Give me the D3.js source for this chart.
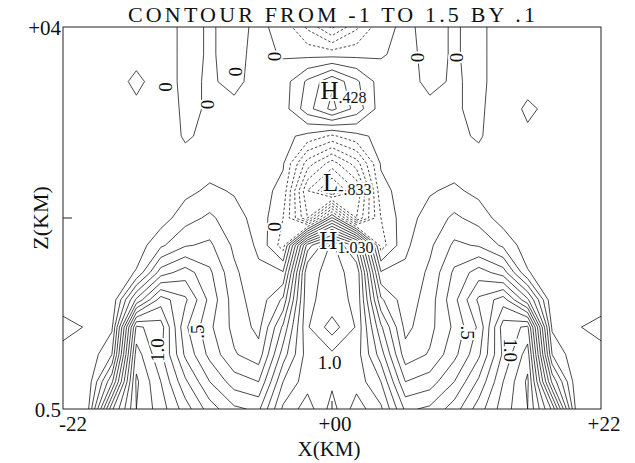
<!DOCTYPE html>
<html>
<head>
<meta charset="utf-8">
<script src="https://cdn.jsdelivr.net/npm/d3@7"></script>
<style>
  body { margin: 0; background: #fff; }
  text { font-family: "Liberation Serif", "DejaVu Serif", serif; fill: #111; }
</style>
</head>
<body>
<div id="chart"></div>
<script>
// Grid coordinates (km)
const xKm = [-22, -20, -18, -16, -14, -12, -10, -8, -6, -4, -2, 0, 2, 4, 6, 8, 10, 12, 14, 16, 18, 20, 22];
const zKm = [4.0, 3.75, 3.5, 3.25, 3.0, 2.75, 2.5, 2.25, 2.0, 1.75, 1.5, 1.25, 1.0, 0.75, 0.5];

// Field values, one row per height (top row first)
const field = [
  [0.02, 0.02, 0.03, 0.03, 0.06, -0.03, 0.01, -0.03, 0.02, -0.03, -0.22, -0.42, -0.22, -0.03, 0.02, -0.03, 0.01, -0.03, 0.06, 0.03, 0.03, 0.02, 0.02],
  [0.02, 0.03, 0.02, 0.03, 0.06, -0.03, 0.01, -0.03, 0.03, -0.01, -0.03, -0.04, -0.03, -0.01, 0.03, -0.03, 0.01, -0.03, 0.06, 0.03, 0.02, 0.03, 0.02],
  [0.02, 0.02, 0.04, -0.02, 0.04, -0.02, 0.01, -0.02, 0.03, 0.05, 0.22, 0.38, 0.22, 0.05, 0.03, -0.02, 0.01, -0.02, 0.04, 0.04, 0.04, 0.02, 0.02],
  [0.01, 0.02, 0.03, 0.02, 0.06, -0.02, 0.01, 0.02, 0.04, 0.05, 0.26, 0.43, 0.26, 0.05, 0.04, 0.02, 0.01, -0.02, 0.06, -0.02, 0.03, 0.02, 0.01],
  [0.01, 0.01, 0.02, 0.02, 0.05, -0.01, 0.02, 0.03, 0.04, 0.03, -0.03, -0.12, -0.03, 0.03, 0.04, 0.03, 0.02, -0.01, 0.05, 0.02, 0.02, 0.01, 0.01],
  [0.01, 0.01, 0.02, 0.02, 0.03, 0.03, 0.05, 0.04, 0.02, 0.01, -0.35, -0.55, -0.35, 0.01, 0.02, 0.04, 0.05, 0.03, 0.03, 0.02, 0.02, 0.01, 0.01],
  [0.01, 0.01, 0.02, 0.02, 0.03, 0.07, 0.12, 0.09, 0.04, -0.03, -0.6, -0.83, -0.6, -0.03, 0.04, 0.09, 0.12, 0.07, 0.03, 0.02, 0.02, 0.01, 0.01],
  [0.01, 0.01, 0.01, 0.02, 0.05, 0.16, 0.22, 0.14, 0.06, -0.1, -0.5, 0.12, -0.5, -0.1, 0.06, 0.14, 0.22, 0.16, 0.05, 0.02, 0.01, 0.01, 0.01],
  [0.01, 0.01, 0.02, 0.04, 0.18, 0.29, 0.32, 0.18, 0.08, -0.15, 0.75, 1.03, 0.75, -0.15, 0.08, 0.18, 0.32, 0.29, 0.18, 0.04, 0.02, 0.01, 0.01],
  [0.01, 0.01, 0.02, 0.11, 0.45, 0.55, 0.42, 0.22, 0.12, 0.11, 0.99, 1.01, 0.99, 0.11, 0.12, 0.22, 0.42, 0.55, 0.45, 0.11, 0.02, 0.01, 0.01],
  [0.03, 0.01, 0.02, 0.52, 0.85, 0.72, 0.47, 0.25, 0.14, 0.32, 0.99, 1.02, 0.99, 0.32, 0.14, 0.25, 0.47, 0.72, 0.85, 0.52, 0.02, 0.01, 0.03],
  [-0.02, 0.005, 0.08, 1.12, 1.05, 0.62, 0.42, 0.27, 0.17, 0.52, 0.99, 1.15, 0.99, 0.52, 0.17, 0.27, 0.42, 0.62, 1.05, 1.12, 0.08, 0.005, -0.02],
  [0.02, 0.02, 0.2, 1.25, 1.02, 0.68, 0.47, 0.31, 0.24, 0.65, 0.95, 0.98, 0.95, 0.65, 0.24, 0.31, 0.47, 0.68, 1.02, 1.25, 0.2, 0.02, 0.02],
  [0.02, 0.03, 0.48, 1.32, 1.1, 0.82, 0.6, 0.45, 0.4, 0.8, 0.96, 0.92, 0.96, 0.8, 0.4, 0.45, 0.6, 0.82, 1.1, 1.32, 0.48, 0.03, 0.02],
  [0.02, 0.06, 0.88, 1.3, 1.15, 0.95, 0.75, 0.62, 0.58, 0.92, 1.05, 0.86, 1.05, 0.92, 0.58, 0.62, 0.75, 0.95, 1.15, 1.3, 0.88, 0.06, 0.02]
];

// Contour levels: from -1 to 1.5 by .1
const levelFrom = -1, levelTo = 1.5, levelStep = 0.1;

// Tick labels
const xTickLabels = [{ v: -22, t: "-22" }, { v: 0, t: "+00" }, { v: 22, t: "+22" }];
const zTickLabels = [{ v: 4, t: "+04" }, { v: 0.5, t: "0.5" }];

// Contour labels placed along lines (km)
const lineLabels = [
  { t: "0", x: -13.6, z: 3.45, a: 90 },
  { t: "0", x: -10.2, z: 3.29, a: 90 },
  { t: "0", x: -7.9, z: 3.59, a: 90 },
  { t: "0", x: -4.7, z: 3.73, a: 90 },
  { t: "0", x: 7.0, z: 3.72, a: 90 },
  { t: "0", x: 10.2, z: 3.72, a: 90 },
  { t: "0", x: -4.7, z: 2.17, a: 90 },
  { t: ".5", x: -11.0, z: 1.21, a: -90 },
  { t: "1.0", x: -14.3, z: 1.04, a: -90 },
  { t: ".5", x: 11.1, z: 1.2, a: 90 },
  { t: "1.0", x: 14.6, z: 1.04, a: 90 },
  { t: "1.0", x: -0.2, z: 0.93, a: 0 }
];

// Highs and lows
const extremes = [
  { kind: "H", value: ".428", x: -0.2, z: 3.42 },
  { kind: "L", value: "-.833", x: 0.0, z: 2.58 },
  { kind: "H", value: "1.030", x: -0.3, z: 2.05 }
];

const width = 635, height = 463;
const margin = { top: 27, right: 34, bottom: 54, left: 63 };
const plotW = width - margin.left - margin.right;
const plotH = height - margin.top - margin.bottom;

const svg = d3.select("#chart")
  .append("svg")
  .attr("width", width)
  .attr("height", height);

const x = d3.scaleLinear().domain([xKm[0], xKm[xKm.length - 1]]).range([margin.left, margin.left + plotW]);
const z = d3.scaleLinear().domain([zKm[zKm.length - 1], zKm[0]]).range([margin.top + plotH, margin.top]);

// grid units -> km (d3.contours puts sample i at i + 0.5)
const gridX = d3.scaleLinear().domain([0.5, xKm.length - 0.5]).range([xKm[0], xKm[xKm.length - 1]]);
const gridZ = d3.scaleLinear().domain([0.5, zKm.length - 0.5]).range([zKm[0], zKm[zKm.length - 1]]);

const levels = d3.range(Math.round(levelFrom / levelStep), Math.round(levelTo / levelStep) + 1)
  .map(i => +(i * levelStep).toFixed(1));

const contours = d3.contours()
  .size([xKm.length, zKm.length])
  .thresholds(levels)(field.flat());

const proj = d3.geoTransform({
  point(px, py) { this.stream.point(x(gridX(px)), z(gridZ(py))); }
});
const path = d3.geoPath(proj);

svg.append("clipPath").attr("id", "plotClip")
  .append("rect")
  .attr("x", margin.left).attr("y", margin.top)
  .attr("width", plotW).attr("height", plotH);

svg.append("g")
  .attr("clip-path", "url(#plotClip)")
  .selectAll("path")
  .data(contours)
  .join("path")
  .attr("d", path)
  .attr("fill", "none")
  .attr("stroke", "#1a1a1a")
  .attr("stroke-width", 0.8)
  .attr("stroke-dasharray", d => d.value < -1e-9 ? "2.5,2" : null);

// Line labels with a white halo to break the lines
svg.append("g")
  .selectAll("text")
  .data(lineLabels)
  .join("text")
  .attr("transform", d => `translate(${x(d.x)},${z(d.z)}) rotate(${d.a})`)
  .attr("text-anchor", "middle")
  .attr("dominant-baseline", "central")
  .attr("font-size", 19)
  .attr("stroke", "#fff")
  .attr("stroke-width", 4)
  .attr("paint-order", "stroke")
  .text(d => d.t);

// High / low markers
const ext = svg.append("g")
  .selectAll("text")
  .data(extremes)
  .join("text")
  .attr("x", d => x(d.x) - 9)
  .attr("y", d => z(d.z) + 9)
  .attr("stroke", "#fff")
  .attr("stroke-width", 4)
  .attr("paint-order", "stroke");
ext.append("tspan").attr("font-size", 25).text(d => d.kind);
ext.append("tspan").attr("font-size", 16).attr("dy", 4).text(d => d.value);

// Frame
svg.append("rect")
  .attr("x", margin.left).attr("y", margin.top)
  .attr("width", plotW).attr("height", plotH)
  .attr("fill", "none")
  .attr("stroke", "#222")
  .attr("stroke-width", 1);

// Middle ticks
const zMid = (zKm[0] + zKm[zKm.length - 1]) / 2;
svg.append("line")
  .attr("x1", margin.left).attr("x2", margin.left + 9)
  .attr("y1", z(zMid)).attr("y2", z(zMid))
  .attr("stroke", "#222");
svg.append("line")
  .attr("x1", x(0)).attr("x2", x(0))
  .attr("y1", margin.top + plotH).attr("y2", margin.top + plotH - 8)
  .attr("stroke", "#222");

// Tick labels
svg.append("g")
  .selectAll("text")
  .data(xTickLabels)
  .join("text")
  .attr("x", (d, i) => x(d.v) + (i === 0 ? 10 : 3))
  .attr("y", margin.top + plotH + 22)
  .attr("text-anchor", "middle")
  .attr("font-size", 21)
  .text(d => d.t);

svg.append("g")
  .selectAll("text")
  .data(zTickLabels)
  .join("text")
  .attr("x", margin.left - 2)
  .attr("y", d => z(d.v) + 8)
  .attr("text-anchor", "end")
  .attr("font-size", 21)
  .text(d => d.t);

// Axis titles
svg.append("text")
  .attr("x", x(0) - 3)
  .attr("y", margin.top + plotH + 47)
  .attr("text-anchor", "middle")
  .attr("font-size", 21)
  .text("X(KM)");

svg.append("text")
  .attr("transform", `translate(48,${margin.top + plotH / 2}) rotate(-90)`)
  .attr("text-anchor", "middle")
  .attr("font-size", 22)
  .text("Z(KM)");

// Title
svg.append("text")
  .attr("x", 128)
  .attr("y", 22)
  .attr("font-size", 22)
  .attr("textLength", 407)
  .attr("lengthAdjust", "spacing")
  .text(`CONTOUR FROM ${levelFrom} TO ${levelTo} BY .1`);
</script>
</body>
</html>
